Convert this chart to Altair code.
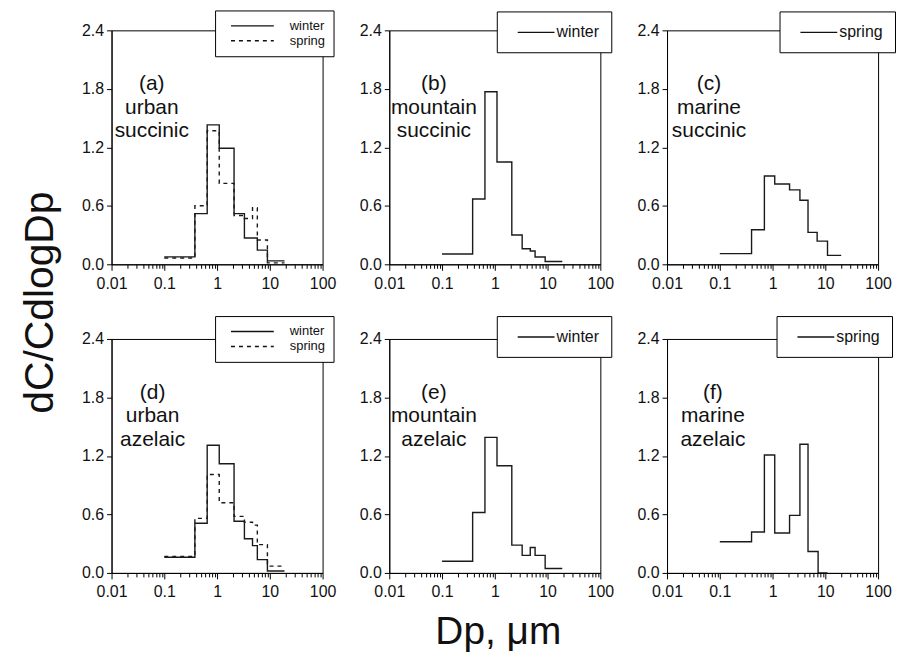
import altair as alt
import pandas as pd

FONT = "Liberation Sans"

# ---- size-bin edges (um) ----
edges_stage = [0.1, 0.38, 0.65, 1.1, 2.1, 3.3, 4.7, 5.8, 9.0, 19.0]
edges_marine_c = [0.1, 0.4, 0.7, 1.1, 2.1, 3.3, 4.7, 7.0, 11.0, 20.0]
edges_marine_f = [0.1, 0.4, 0.7, 1.1, 2.1, 3.3, 4.7, 7.3, 11.0]

# ---- dC/CdlogDp values per bin ----
urban_succ_winter = [0.076, 0.52, 1.43, 1.19, 0.52, 0.27, 0.27, 0.145, 0.035]
urban_succ_spring = [0.065, 0.60, 1.37, 0.83, 0.50, 0.47, 0.58, 0.25, 0.015]
mount_succ_winter = [0.105, 0.67, 1.77, 1.05, 0.30, 0.16, 0.136, 0.075, 0.028]
marine_succ_spring = [0.11, 0.355, 0.906, 0.824, 0.763, 0.657, 0.327, 0.238, 0.092]
urban_azel_winter = [0.16, 0.51, 1.31, 1.12, 0.53, 0.35, 0.28, 0.136, 0.02]
urban_azel_spring = [0.17, 0.56, 1.01, 0.72, 0.58, 0.52, 0.49, 0.29, 0.07]
mount_azel_winter = [0.12, 0.62, 1.39, 1.10, 0.285, 0.18, 0.26, 0.18, 0.045]
marine_azel_spring = [0.32, 0.42, 1.21, 0.41, 0.59, 1.32, 0.22, 0.0]

panel_labels = ["(a)\nurban\nsuccinic", "(b)\nmountain\nsuccinic", "(c)\nmarine\nsuccinic",
                "(d)\nurban\nazelaic", "(e)\nmountain\nazelaic", "(f)\nmarine\nazelaic"]
label_x = [0.058, 0.07, 0.0625, 0.06, 0.07, 0.074]
label_y = 1.96

y_ticks = [0, 0.6, 1.2, 1.8, 2.4]
x_ticks = [k * 10.0 ** e for e in range(-2, 2) for k in range(1, 10)] + [100.0]

W, H = 212, 235
DECADE = "abs(log(datum.value)/LN10 - round(log(datum.value)/LN10)) < 0.000001"


def panel(edges, series, label, lx, leg, xtitle=None, ytitle=None):
    rows = []
    for name, vals in series:
        for i, v in enumerate(vals):
            rows.append({"dp": edges[i], "c": v, "season": name, "o": i})
        rows.append({"dp": edges[len(vals)], "c": vals[-1], "season": name, "o": len(vals)})
    df = pd.DataFrame(rows)
    names = [s[0] for s in series]
    dashes = [[1, 0], [4, 4]][: len(names)]

    xaxis_kw = dict(
        values=x_ticks, labelExpr=f"({DECADE}) ? format(datum.value, '~g') : ''",
        tickSize={"condition": {"test": DECADE, "value": 6}, "value": 4},
        labelFont=FONT, labelFontSize=16, labelColor="#111", labelPadding=5,
        labelFlush=False, labelOverlap=False, labelBound=False,
        domainColor="black", tickColor="black", grid=False, title=xtitle,
    )
    if xtitle:
        xaxis_kw.update(titleFont=FONT, titleFontSize=39, titleFontWeight="normal",
                        titleColor="#111", titleX=W / 2 + 3, titleY=59, titleBaseline="middle")
    yaxis_kw = dict(
        values=y_ticks, format=".1f", tickSize=5,
        labelFont=FONT, labelFontSize=16, labelColor="#111", labelPadding=3,
        labelFlush=False, labelOverlap=False,
        domainColor="black", tickColor="black", grid=False, title=ytitle,
    )
    if ytitle:
        yaxis_kw.update(titleFont=FONT, titleFontSize=41, titleFontWeight="normal",
                        titleColor="#111", titleX=-71, titleY=273, titleAngle=270,
                        titleAlign="center", titleBaseline="middle")

    x = alt.X("dp:Q", scale=alt.Scale(type="log", domain=[0.01, 100], nice=False),
              axis=alt.Axis(**xaxis_kw))
    y = alt.Y("c:Q", scale=alt.Scale(domain=[0, 2.4], nice=False), axis=alt.Axis(**yaxis_kw))

    unit = leg["sym"] / 2.0
    path = f"M{leg['l0'] / unit:.3f},0H{(leg['l0'] + leg['len']) / unit:.3f}"
    lines = alt.Chart(df).mark_line(interpolate="step-after", color="#1a1a1a", strokeWidth=1.4).encode(
        x=x, y=y,
        strokeDash=alt.StrokeDash(
            "season:N", sort=names,
            scale=alt.Scale(domain=names, range=dashes),
            legend=alt.Legend(
                orient="none", legendX=leg["x"], legendY=leg["y"], title=None,
                strokeColor="black", fillColor="white", padding=leg["pad"],
                symbolType=path, symbolSize=leg["sym"] ** 2,
                symbolStrokeColor="#111", symbolFillColor="transparent",
                symbolStrokeWidth=1.4, labelOffset=leg["loff"],
                labelFont=FONT, labelFontSize=leg["fs"], labelColor="#111",
                rowPadding=0,
            ),
        ),
        order="o:Q",
    )
    tdf = pd.DataFrame({"dp": [lx], "c": [label_y], "t": [label]})
    text = alt.Chart(tdf).mark_text(
        align="center", baseline="top", fontSize=21, lineHeight=23.5, lineBreak="\n",
        font=FONT, color="#111",
    ).encode(x="dp:Q", y="c:Q", text="t:N")
    return (lines + text).properties(width=W, height=H)


# two-entry legend: line 15..58 px from box left, label at 73
leg2 = dict(x=104, y=-20, pad=8, sym=13, l0=0.5, len=43, loff=52, fs=13)
# one-entry legend: line 20..57 px from box left, label at 58
leg1 = dict(x=108, y=-19, pad=12, sym=16, l0=0, len=37, loff=30, fs=16)

a = panel(edges_stage, [("winter", urban_succ_winter), ("spring", urban_succ_spring)],
          panel_labels[0], label_x[0], leg2, ytitle="dC/CdlogDp")
b = panel(edges_stage, [("winter", mount_succ_winter)], panel_labels[1], label_x[1], leg1)
c = panel(edges_marine_c, [("spring", marine_succ_spring)], panel_labels[2], label_x[2],
          dict(leg1, x=113))
d = panel(edges_stage, [("winter", urban_azel_winter), ("spring", urban_azel_spring)],
          panel_labels[3], label_x[3], dict(leg2, y=-23))
e = panel(edges_stage, [("winter", mount_azel_winter)], panel_labels[4], label_x[4],
          dict(leg1, y=-23), xtitle="Dp, \u03bcm")
f = panel(edges_marine_f, [("spring", marine_azel_spring)], panel_labels[5], label_x[5],
          dict(leg1, x=110, y=-23))

chart = alt.concat(
    a, b, c, d, e, f, columns=3,
    spacing=alt.RowColnumber(row=75, column=67), bounds="flush",
).resolve_scale(strokeDash="independent").resolve_legend(strokeDash="independent").properties(
    padding={"left": 11, "top": 0, "right": 0, "bottom": 0}
).configure_view(stroke="black", strokeWidth=1)

chart.save("out.html", embed_options={"renderer": "svg", "actions": False})
